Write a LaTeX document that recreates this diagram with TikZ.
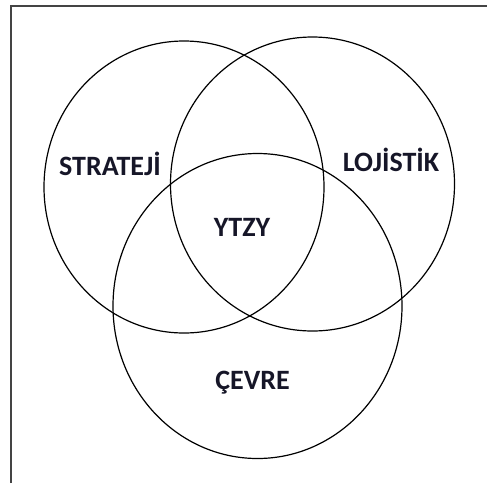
\documentclass[tikz,border=0pt]{standalone}
\usepackage{fontspec}
\setmainfont{Carlito}
\definecolor{labelink}{RGB}{22,22,40}
\definecolor{framegray}{RGB}{68,68,68}
\begin{document}
\begin{tikzpicture}[x=1pt,y=-1pt,
  ring/.style={draw=black,line width=1.2pt},
  setlabel/.style={font=\fontsize{28}{32}\selectfont\bfseries,text=labelink,anchor=base,inner sep=0pt}]
\useasboundingbox (0,0) rectangle (487,483);
% open frame: only the left and top edges
\draw[framegray,line width=2pt] (10.5,483) -- (10.5,5.5) -- (487,5.5);
% the three sets
\draw[ring] (184,187) ellipse [x radius=140pt,y radius=146pt];
\draw[ring] (312.5,184) ellipse [x radius=142pt,y radius=147pt];
\draw[ring] (257.5,306) ellipse [x radius=144.5pt,y radius=152.5pt];
% labels
\node[setlabel] (strateji) at (110,175.5) {STRATEJİ};
\node[setlabel] (lojistik) at (391,171) {LOJİSTİK};
\node[setlabel] (ytzy) at (242,236) {YTZY};
\node[setlabel] (cevre) at (252.5,389) {ÇEVRE};
\end{tikzpicture}
\end{document}
